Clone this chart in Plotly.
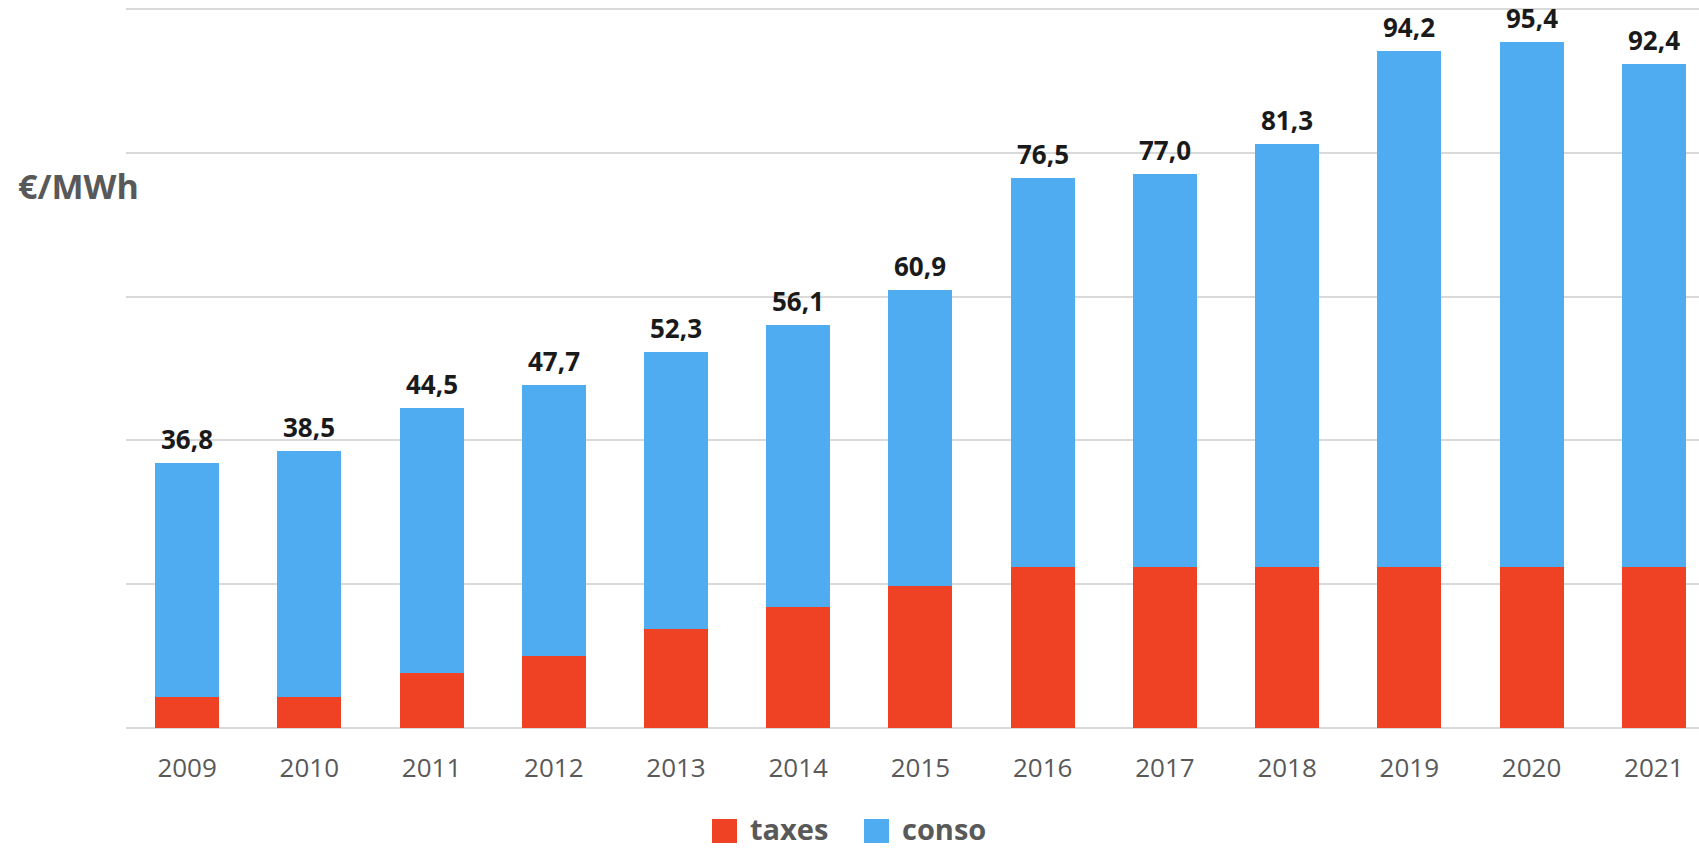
import plotly.graph_objects as go

# Yearly electricity cost breakdown (€/MWh)
years = ["2009", "2010", "2011", "2012", "2013", "2014", "2015",
         "2016", "2017", "2018", "2019", "2020", "2021"]
totals = [36.8, 38.5, 44.5, 47.7, 52.3, 56.1, 60.9,
          76.5, 77.0, 81.3, 94.2, 95.4, 92.4]
taxes = [4.3, 4.3, 7.7, 10.0, 13.8, 16.8, 19.8,
         22.4, 22.4, 22.4, 22.4, 22.4, 22.4]
conso = [round(t - x, 1) for t, x in zip(totals, taxes)]
total_labels = [f"{v:.1f}".replace(".", ",") for v in totals]

RED = "#EF4124"
BLUE = "#4FACF1"
GREY_TEXT = "#595959"
GRID = "#D9D9D9"
FONT = "Open Sans"

W, H = 1699, 848
ML, MR, MT, MB = 126, 0, 7, 120
plot_w = W - ML - MR
plot_h = H - MT - MB


def px_x(px):
    return (px - ML) / plot_w


def px_y(py):
    return (H - MB - py) / plot_h


fig = go.Figure()
fig.add_trace(go.Bar(x=years, y=taxes, name="taxes", marker_color=RED,
                     marker_line_width=0, showlegend=False))
fig.add_trace(go.Bar(x=years, y=conso, name="conso", marker_color=BLUE,
                     marker_line_width=0, showlegend=False))

annotations = []
# value of each stacked total, placed above its bar (category index on x)
for i, (tot, lab) in enumerate(zip(totals, total_labels)):
    annotations.append(dict(
        x=i, y=tot, xref="x", yref="y", text=f"<b>{lab}</b>",
        showarrow=False, yshift=24,
        font=dict(family=FONT, size=26, color="#1A1A1A"),
    ))

# unit label on the left
annotations.append(dict(
    x=px_x(16), y=px_y(186), xref="paper", yref="paper",
    xanchor="left", yanchor="middle", showarrow=False,
    text="<b>€/MWh</b>", font=dict(family=FONT, size=34, color=GREY_TEXT),
))

# legend
shapes = []
legend_items = [("taxes", RED, 712, 748), ("conso", BLUE, 864, 900)]
for name, color, sx, tx in legend_items:
    shapes.append(dict(
        type="rect", xref="paper", yref="paper",
        x0=px_x(sx), x1=px_x(sx + 25), y0=px_y(843), y1=px_y(819),
        fillcolor=color, line_width=0, layer="above",
    ))
    annotations.append(dict(
        x=px_x(tx), y=px_y(828), xref="paper", yref="paper",
        xanchor="left", yanchor="middle", showarrow=False,
        text=f"<b>{name}</b>", font=dict(family=FONT, size=29, color=GREY_TEXT),
    ))

fig.update_layout(
    width=W, height=H,
    margin=dict(l=ML, r=MR, t=MT, b=MB, pad=0),
    barmode="stack", bargap=0.476,
    plot_bgcolor="white", paper_bgcolor="white",
    font=dict(family=FONT, color=GREY_TEXT),
    annotations=annotations, shapes=shapes,
    showlegend=False,
)
fig.update_xaxes(
    type="category", range=[-0.5, 12.37],
    showgrid=False, showline=False, zeroline=False,
    ticks="", ticklabelstandoff=22,
    tickfont=dict(family=FONT, size=26, color=GREY_TEXT),
)
fig.update_yaxes(
    range=[0, 100.3], tickvals=[0, 20, 40, 60, 80, 100],
    showticklabels=False, showgrid=True, gridcolor=GRID, gridwidth=1.5,
    zeroline=True, zerolinecolor=GRID, zerolinewidth=1.5, showline=False,
)

fig.write_html("out.html")
